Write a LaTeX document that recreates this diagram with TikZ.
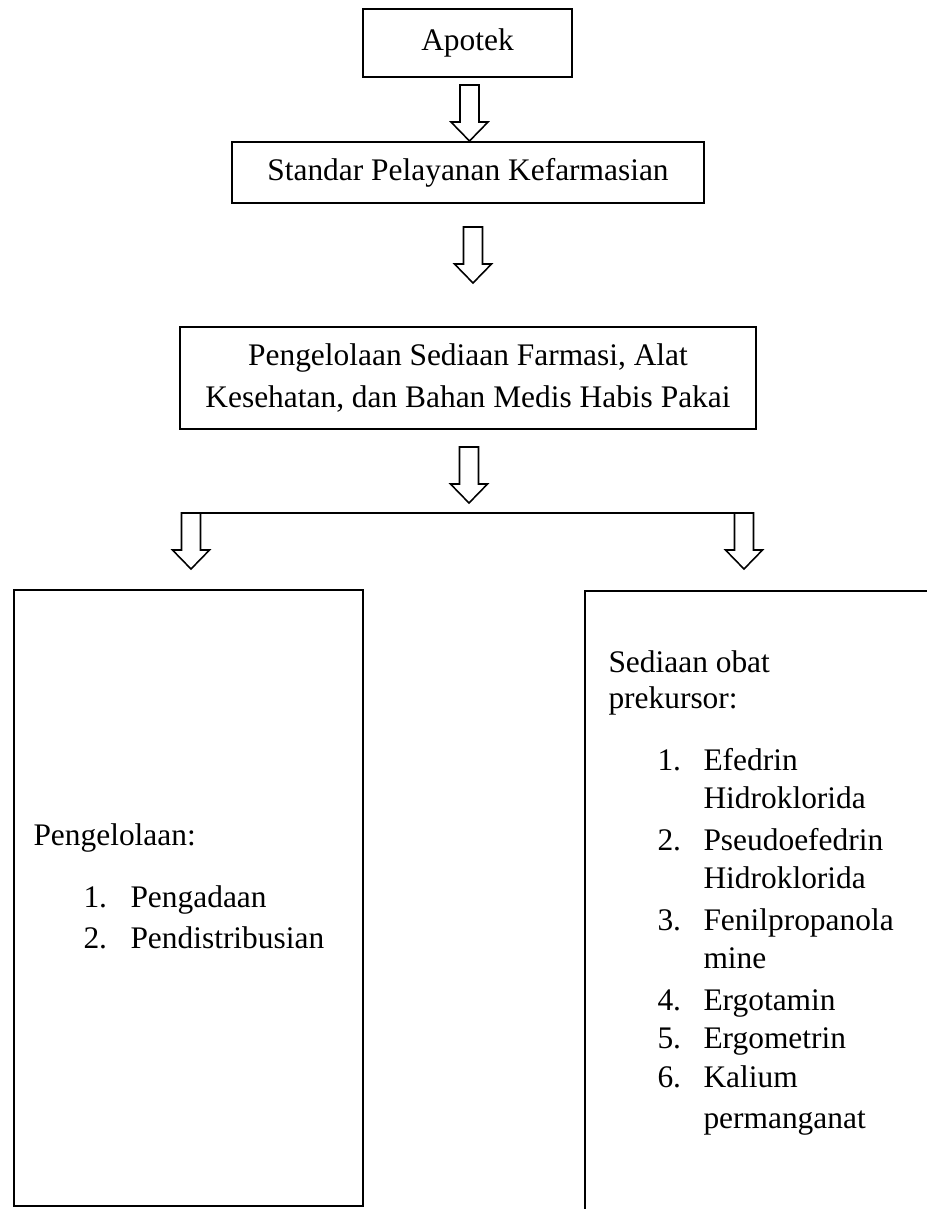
\documentclass[tikz,border=0pt]{standalone}
\usepackage{fontspec}
\setmainfont{Liberation Serif}
\usetikzlibrary{fit}

\tikzset{
  box/.style={draw, line width=0.8pt, inner sep=0pt},
  txt/.style={anchor=base west, inner sep=0pt},
  arrowline/.style={line width=0.6pt, line join=miter},
  pics/downarrow/.style={code={
    \draw[arrowline] (-9.5,0) -- (-9.5,37) -- (-18.5,37) -- (0,56)
      -- (18.5,37) -- (9.5,37) -- (9.5,0) -- cycle;
  }}
}

\begin{document}
\begin{tikzpicture}[x=0.382pt, y=-0.382pt, font=\fontsize{12}{14}\selectfont]
\clip (0,0) rectangle (927,1209);

% Top chain
\node[box, fit={(363,9) (572,77)}, label=center:Apotek] (apotek) {};
\node[box, fit={(232,142) (704,203)},
      label=center:Standar Pelayanan Kefarmasian] (standar) {};
\node[box, fit={(180,327) (756,429)},
      label={[align=center, font=\fontsize{12}{16}\selectfont]center:
        Pengelolaan Sediaan Farmasi, Alat\\Kesehatan, dan Bahan Medis Habis Pakai}] (kelola) {};

% Arrows
\pic at (469.5,85) {downarrow};
\pic at (473,227) {downarrow};
\pic at (469,447) {downarrow};

% Split
\coordinate (forkL) at (181.5,513);
\coordinate (forkR) at (753.5,513);
\draw[arrowline] (forkL) -- (forkR);
\pic at (191,513) {downarrow};
\pic at (744,513) {downarrow};

% Bottom boxes
\node[box, fit={(14,590) (363,1206)}] (pengelolaan) {};
\node[box, fit={(585,591) (960,1240)}] (prekursor) {};

% Left box text
\node[txt] (lhead) at (33,845) {Pengelolaan:};
\foreach \n/\t/\y [count=\i] in {1./Pengadaan/907, 2./Pendistribusian/948}{
  \node[txt] (lnum\i) at (83,\y) {\n};
  \node[txt] (litem\i) at (130,\y) {\t};
}

% Right box text
\node[txt] (rhead1) at (608,672) {Sediaan obat};
\node[txt] (rhead2) at (608,708) {prekursor:};
\foreach \n/\t/\y [count=\i] in {1./Efedrin/770, /Hidroklorida/808,
    2./Pseudoefedrin/850, /Hidroklorida/888, 3./Fenilpropanola/930,
    /mine/968, 4./Ergotamin/1010, 5./Ergometrin/1048, 6./Kalium/1087,
    /permanganat/1128}{
  \node[txt] (rnum\i) at (657,\y) {\n};
  \node[txt] (ritem\i) at (703,\y) {\t};
}

\end{tikzpicture}
\end{document}
